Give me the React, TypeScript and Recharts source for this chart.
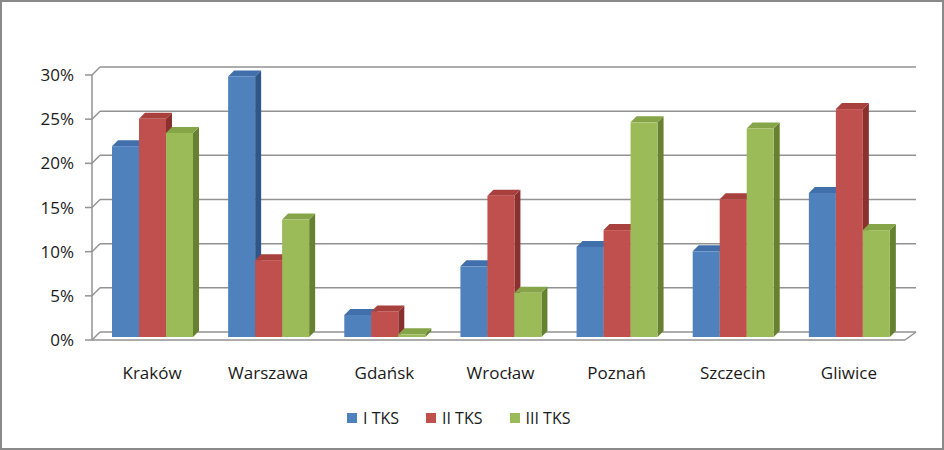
import React from 'react';
import { BarChart, Bar, XAxis, YAxis, CartesianGrid, Legend } from 'recharts';

const cities = ['Kraków', 'Warszawa', 'Gdańsk', 'Wrocław', 'Poznań', 'Szczecin', 'Gliwice'];
const tks1 = [21.6, 29.5, 2.5, 8.0, 10.2, 9.7, 16.3];
const tks2 = [24.7, 8.7, 2.9, 16.0, 12.1, 15.6, 25.8];
const tks3 = [23.1, 13.3, 0.3, 5.0, 24.3, 23.6, 12.1];
const yTicks = [0, 5, 10, 15, 20, 25, 30];

const data = cities.map((city, i) => ({ city, s1: tks1[i], s2: tks2[i], s3: tks3[i] }));

const series = [
  { key: 's1', name: 'I TKS', front: '#4F81BD', top: '#406FAB', side: '#2F5687' },
  { key: 's2', name: 'II TKS', front: '#C0504D', top: '#A8413E', side: '#8A302E' },
  { key: 's3', name: 'III TKS', front: '#9BBB59', top: '#86A548', side: '#66812F' },
];

const FONT = '"Open Sans", sans-serif';
const GRID = '#929292';
const DX = 6;
const DY = 6;

// 3D-looking column: front face, right side and top
const Column3D = (colors: { front: string; top: string; side: string }) => (props: any) => {
  const { x, y, width, height } = props;
  if (width == null || height == null) return null;
  const fx = x + 2;
  const fy = y - 3;
  const h = Math.max(height, 0);
  return (
    <g>
      <polygon
        points={`${fx + width},${fy} ${fx + width + DX},${fy - DY} ${fx + width + DX},${fy + h - DY} ${fx + width},${fy + h}`}
        fill={colors.side}
      />
      <polygon
        points={`${fx},${fy} ${fx + DX},${fy - DY} ${fx + width + DX},${fy - DY} ${fx + width},${fy}`}
        fill={colors.top}
      />
      <rect x={fx} y={fy} width={width} height={h} fill={colors.front} />
    </g>
  );
};

// back wall gridlines with the diagonal link to the front axis
const BackGridLine = (props: any) => {
  const { x1, x2, y1, index } = props;
  const bx = x1 + 8;
  const by = y1 - 8;
  return (
    <g key={`g-${index}`}>
      <line x1={x1} y1={y1} x2={bx} y2={by} stroke={GRID} strokeWidth={1.5} />
      <line x1={bx} y1={by} x2={x2 + 11} y2={by} stroke={GRID} strokeWidth={1.5} />
      {index === 0 && <line x1={x2} y1={y1} x2={x2 + 11} y2={by} stroke={GRID} strokeWidth={1.5} />}
    </g>
  );
};

const YTick = (props: any) => {
  const { x, y, payload } = props;
  return (
    <text x={x} y={y + 6} textAnchor="end" fill="#1a1a1a" fontSize={17} fontFamily={FONT}>
      {`${payload.value}%`}
    </text>
  );
};

const XTick = (props: any) => {
  const { x, y, payload } = props;
  return (
    <text x={x + 2} y={y + 37} textAnchor="middle" fill="#1a1a1a" fontSize={17} fontFamily={FONT}>
      {payload.value}
    </text>
  );
};

const LegendContent = () => (
  <div style={{ display: 'flex', fontFamily: FONT, fontSize: 16, color: '#1a1a1a', lineHeight: '20px' }}>
    {series.map((s) => (
      <div key={s.key} style={{ display: 'flex', alignItems: 'center', marginRight: 27 }}>
        <span style={{ width: 10, height: 10, background: s.front, display: 'inline-block', marginRight: 6 }} />
        <span>{s.name}</span>
      </div>
    ))}
  </div>
);

const App: React.FC = () => {
  return (
    <div style={{ position: 'absolute', left: 0, top: 0, width: 944, height: 450, background: '#fff' }}>
      <BarChart
        width={944}
        height={450}
        data={data}
        margin={{ top: 75, right: 39, bottom: 50, left: 32 }}
        barGap={0}
        barSize={27}
      >
        <CartesianGrid vertical={false} horizontal={BackGridLine} />
        <XAxis dataKey="city" axisLine={{ stroke: GRID, strokeWidth: 1.5 }} tickLine={false} tickSize={0} tick={XTick} height={30} interval={0} />
        <YAxis
          domain={[0, 30]}
          ticks={yTicks}
          width={60}
          tickSize={7}
          tickMargin={11}
          axisLine={{ stroke: GRID, strokeWidth: 1.5 }}
          tickLine={{ stroke: GRID, strokeWidth: 1.5 }}
          tick={YTick}
        />
        <Legend
          verticalAlign="bottom"
          content={LegendContent}
          wrapperStyle={{ left: 347, top: 408, width: 'auto', height: 30 }}
        />
        {series.map((s) => (
          <Bar key={s.key} dataKey={s.key} name={s.name} shape={Column3D(s)} isAnimationActive={false} />
        ))}
      </BarChart>
      <div
        style={{
          position: 'absolute',
          left: 0,
          top: 0,
          width: 944,
          height: 450,
          boxSizing: 'border-box',
          border: '2px solid #8a8a8a',
          pointerEvents: 'none',
        }}
      />
    </div>
  );
};

export default App;
